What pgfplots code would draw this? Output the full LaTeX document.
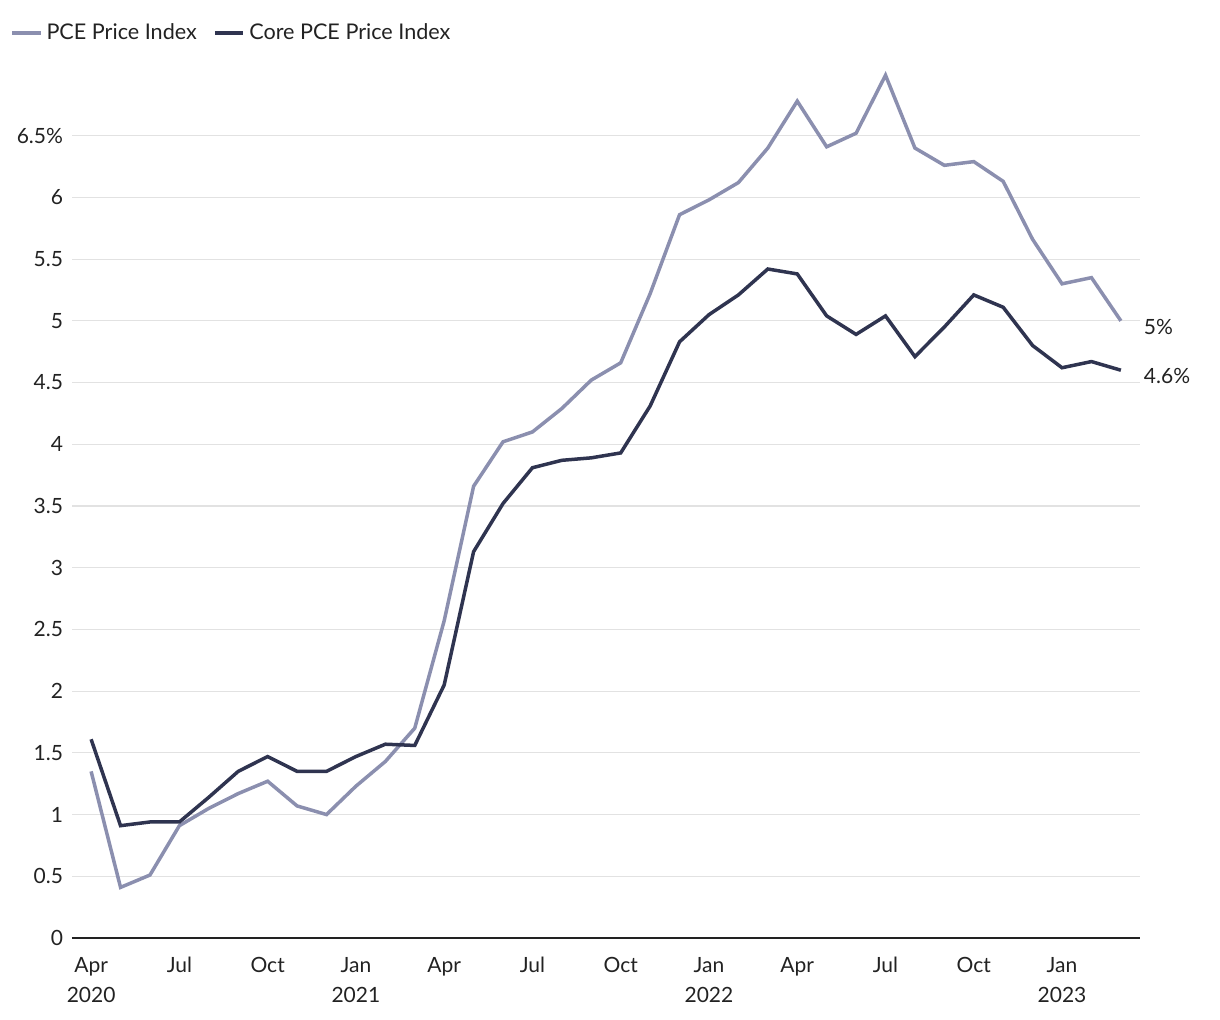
\documentclass[border=0pt]{standalone}
\usepackage{pgfplots}
\pgfplotsset{compat=1.18}
\usepackage{fontspec}
\setmainfont{Lato}
\definecolor{pcelight}{HTML}{8B8FAF}
\definecolor{pcedark}{HTML}{2F3450}
\definecolor{gridgray}{HTML}{E2E2E2}
\definecolor{txt}{HTML}{222222}

\begin{document}
\begin{tikzpicture}
\useasboundingbox (-36pt,-41pt) rectangle (574pt,469pt);
\begin{axis}[
    scale only axis,
    width=534pt, height=432pt,
    xmin=-0.65, xmax=35.65,
    ymin=0, ymax=7.0,
    axis x line*=bottom,
    axis y line*=left,
    x axis line style={draw=txt, line width=0.9pt, -},
    y axis line style={draw=none},
    ytick={0,0.5,...,6.5},
    yticklabels={0,0.5,1,1.5,2,2.5,3,3.5,4,4.5,5,5.5,6,6.5\%},
    xtick={0,3,...,33},
    xticklabels={{Apr\\2020},Jul,Oct,{Jan\\2021},Apr,Jul,Oct,{Jan\\2022},Apr,Jul,Oct,{Jan\\2023}},
    major tick length=0pt,
    ymajorgrids,
    grid style={gridgray, line width=0.6pt},
    tick label style={font=\fontsize{10.5}{15}\selectfont, text=txt},
    xticklabel style={align=center, yshift=-6pt},
    yticklabel style={xshift=-1pt},
    /pgf/number format/assume math mode=true,
    clip=false,
    legend columns=2,
    legend style={at={(-0.064,1.047)}, anchor=west, draw=none, fill=none,
        font=\fontsize{10.8}{13}\selectfont, text=txt,
        /tikz/every even column/.append style={column sep=6pt}},
    legend image code/.code={\draw[#1, line width=2pt] (0cm,0cm) -- (0.5cm,0cm);},
]
\addplot[pcelight, line width=1.75pt] coordinates {
(0,1.35) (1,0.41) (2,0.51) (3,0.91) (4,1.05) (5,1.17) (6,1.27) (7,1.07) (8,1.00)
(9,1.23) (10,1.43) (11,1.70) (12,2.57) (13,3.66) (14,4.02) (15,4.10) (16,4.29)
(17,4.52) (18,4.66) (19,5.22) (20,5.86) (21,5.98) (22,6.12) (23,6.40) (24,6.78)
(25,6.41) (26,6.52) (27,6.99) (28,6.40) (29,6.26) (30,6.29) (31,6.13) (32,5.66)
(33,5.30) (34,5.35) (35,5.00)
};
\addlegendentry{PCE Price Index}
\addplot[pcedark, line width=1.75pt] coordinates {
(0,1.61) (1,0.91) (2,0.94) (3,0.94) (4,1.14) (5,1.35) (6,1.47) (7,1.35) (8,1.35)
(9,1.47) (10,1.57) (11,1.56) (12,2.05) (13,3.13) (14,3.52) (15,3.81) (16,3.87)
(17,3.89) (18,3.93) (19,4.31) (20,4.83) (21,5.05) (22,5.21) (23,5.42) (24,5.38)
(25,5.04) (26,4.89) (27,5.04) (28,4.71) (29,4.95) (30,5.21) (31,5.11) (32,4.80)
(33,4.62) (34,4.67) (35,4.60)
};
\addlegendentry{Core PCE Price Index}
\node[anchor=west, text=txt, font=\fontsize{10.5}{13}\selectfont, xshift=8pt, yshift=-3pt] at (axis cs:35,5.00) {5\%};
\node[anchor=west, text=txt, font=\fontsize{10.5}{13}\selectfont, xshift=8pt, yshift=-3pt] at (axis cs:35,4.60) {4.6\%};
\end{axis}
\end{tikzpicture}
\end{document}
